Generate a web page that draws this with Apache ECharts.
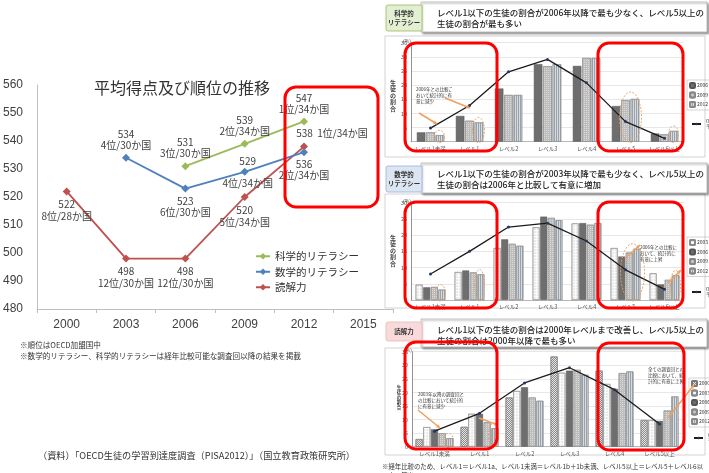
<!DOCTYPE html>
<html><head><meta charset="utf-8">
<script src="https://cdn.jsdelivr.net/npm/echarts@6/dist/echarts.min.js"></script>
<style>html,body{margin:0;padding:0;background:#fff}#main{width:709px;height:473px}</style>
</head><body><div id="main"></div>
<script>
// ---- 平均得点及び順位の推移 ----
const years = ['2000', '2003', '2006', '2009', '2012', '2015'];
const reading = [522, 498, 498, 520, 538, null];
const math = [null, 534, 523, 529, 536, null];
const science = [null, null, 531, 539, 547, null];
const readingRank = ['8位/28か国', '12位/30か国', '12位/30か国', '5位/34か国', '1位/34か国', null];
const mathRank = [null, '4位/30か国', '6位/30か国', '4位/34か国', '2位/34か国', null];
const scienceRank = [null, null, '3位/30か国', '2位/34か国', '1位/34か国', null];
const scoreTicks = [480, 560, 10];

// ---- 習熟度レベル別 生徒の割合 (%) ----
const levels7 = ['レベル1未満', 'レベル1', 'レベル2', 'レベル3', 'レベル4', 'レベル5', 'レベル6以上'];
const sci2006 = [3.3, 9.1, 18.8, 27.4, 26.8, 12.6, 2.9];
const sci2009 = [3.3, 7.4, 16.5, 26.7, 29.6, 14.7, 2.6];
const sci2012 = [2.3, 6.8, 16.5, 27.4, 29.6, 15.1, 3.8];
const sciOecd = [4.8, 12.8, 24.7, 29.1, 20.8, 7.1, 1.2];

const math2003 = [4.7, 8.6, 16.0, 22.4, 23.6, 16.0, 8.2];
const math2006 = [3.9, 9.1, 18.7, 25.7, 23.7, 13.4, 4.8];
const math2009 = [4.0, 8.5, 17.3, 25.3, 23.2, 14.6, 6.2];
const math2012 = [3.2, 7.9, 16.7, 24.6, 23.7, 15.8, 7.6];
const mathOecd = [8.0, 15.0, 22.5, 23.7, 18.2, 9.3, 3.3];

const levels6 = ['レベル1未満', 'レベル1', 'レベル2', 'レベル3', 'レベル4', 'レベル5以上'];
const read2000 = [2.8, 7.3, 18.1, 33.2, 28.0, 9.8];
const read2003 = [7.2, 12.1, 20.5, 27.2, 23.1, 9.8];
const read2006 = [6.4, 12.1, 21.9, 28.0, 21.3, 9.5];
const read2009 = [4.9, 9.0, 18.1, 28.3, 27.1, 13.3];
const read2012 = [3.1, 6.8, 16.9, 26.5, 27.7, 18.5];
const readOecd = [5.7, 12.3, 23.5, 29.1, 21.0, 8.4];

const FONT = '"Noto Sans CJK JP", "Noto Sans", sans-serif';
const chart = echarts.init(document.getElementById('main'), null, { renderer: 'canvas' });

// label placement of the score/rank annotations
const below = { position: 'bottom', distance: 3 };
const above = { position: 'top', distance: 3 };
function scoreData(vals, ranks, place) {
  return vals.map((v, i) => {
    if (v == null) return null;
    const p = place[i] || above;
    const text = p.text ? p.text(v, ranks[i]) : v + '\n' + ranks[i];
    return { value: v, label: Object.assign({ show: true, formatter: text }, p, { text: undefined }) };
  });
}
const readPlace = [below, below, below, below,
  { position: 'top', distance: 3, offset: [28, 0], text: (v, r) => v + '  ' + r }];
const mathPlace = [null, above, below,
  { position: 'inside', offset: [3, 0], text: (v, r) => v + '\n\n' + r }, below];
const sciPlace = [null, null, above, above, above];

// bar fill styles per survey year
const barStyle = {
  2000: { color: '#e6e6e6', borderColor: '#777', borderWidth: 0.5,
          decal: { symbol: 'rect', symbolSize: 1, dashArrayX: [[1, 1], [0, 1, 1, 0]], dashArrayY: [1, 0], color: '#8a8a8a' } },
  2003: { color: '#fbfbfb', borderColor: '#888', borderWidth: 0.5,
          decal: { symbol: 'circle', symbolSize: 0.6, dashArrayX: [2, 1], dashArrayY: [2, 1], color: '#b5b5b5' } },
  2006: { color: '#6e6e6e', borderColor: '#555', borderWidth: 0.5 },
  2009: { color: '#bdbdbd', borderColor: '#888', borderWidth: 0.5,
          decal: { symbol: 'rect', symbolSize: 1, dashArrayX: [1, 1], dashArrayY: [1, 1], color: 'rgba(255,255,255,0.45)' } },
  2012: { color: '#d5dbe1', borderColor: '#888', borderWidth: 0.5,
          decal: { symbol: 'rect', symbolSize: 1, dashArrayX: [1, 1], dashArrayY: [4, 0], color: '#9aa3ab' } }
};

function barSeries(prefix, year, data, idx, gap) {
  return {
    type: 'bar', name: prefix + year, xAxisIndex: idx, yAxisIndex: idx, data: data,
    barGap: '10%', barCategoryGap: gap, itemStyle: barStyle[year], emphasis: { disabled: true }, z: 2
  };
}
function oecdSeries(prefix, data, idx) {
  return {
    type: 'line', name: prefix + 'OECD平均', xAxisIndex: idx, yAxisIndex: idx, data: data,
    symbol: 'circle', symbolSize: 3, lineStyle: { color: '#1b1b1b', width: 1.3 },
    itemStyle: { color: '#1f3864' }, z: 5
  };
}

const smallAxisX = (data) => ({
  type: 'category', data: data,
  axisLine: { lineStyle: { color: '#999', width: 0.6 } }, axisTick: { show: false },
  axisLabel: { fontSize: 5.5, color: '#555', margin: 4, fontFamily: FONT, interval: 0 }
});
const smallAxisY = (max) => ({
  type: 'value', min: 0, max: max, interval: 5,
  axisLine: { show: true, lineStyle: { color: '#777', width: 0.8 } },
  axisLabel: { fontSize: 5.5, color: '#555', margin: 4, fontFamily: FONT },
  splitLine: { lineStyle: { color: '#d6d6d6', width: 0.6 } }
});

const smallLegend = (names, left, top) => ({
  data: names, orient: 'vertical', left: left, top: top, itemGap: 2.5,
  itemWidth: 5, itemHeight: 5, padding: [2, 2], borderColor: '#aaa', borderWidth: 0.5,
  textStyle: { fontSize: 5, color: '#333', fontFamily: FONT, padding: [0, 0, 0, -3] },
  formatter: n => n.slice(-4), selectedMode: false
});
const oecdLegend = (name, left, top) => ({
  data: [name], orient: 'vertical', left: left, top: top, itemWidth: 9, itemHeight: 3,
  textStyle: { fontSize: 4.5, color: '#333', fontFamily: FONT, lineHeight: 5 },
  formatter: () => 'OECD\n平均', selectedMode: false
});

const gray = '#bfbfbf';
const option = {
  backgroundColor: '#fff',
  animation: false,
  textStyle: { fontFamily: FONT },
  title: {
    text: '平均得点及び順位の推移', left: 89, top: 75,
    textStyle: { fontSize: 16, fontWeight: 'normal', color: '#333', fontFamily: FONT }
  },
  legend: [
    {
      data: ['科学的リテラシー', '数学的リテラシー', '読解力'], orient: 'vertical', left: 250, top: 246,
      itemGap: 5, itemWidth: 14, itemHeight: 8, selectedMode: false,
      textStyle: { fontSize: 10.5, color: '#333', fontFamily: FONT }
    },
    smallLegend(['科学2006', '科学2009', '科学2012'], 687, 80),
    oecdLegend('科学OECD平均', 686, 114),
    smallLegend(['数学2003', '数学2006', '数学2009', '数学2012'], 687, 237),
    oecdLegend('数学OECD平均', 686, 282),
    smallLegend(['読解2000', '読解2003', '読解2006', '読解2009', '読解2012'], 689, 378),
    oecdLegend('読解OECD平均', 688, 428)
  ],
  grid: [
    { left: 33, top: 85, width: 360, height: 224 },
    { left: 411, top: 42.7, width: 273, height: 99 },
    { left: 411, top: 202.7, width: 273, height: 97.3 },
    { left: 412, top: 351.7, width: 270, height: 95 }
  ],
  xAxis: [
    {
      type: 'category', data: years, gridIndex: 0, boundaryGap: true,
      axisLine: { lineStyle: { color: gray } },
      axisTick: { show: true, length: 4, lineStyle: { color: gray } },
      axisLabel: { fontSize: 12, color: '#404040', margin: 10, fontFamily: 'Liberation Sans, sans-serif' }
    },
    Object.assign(smallAxisX(levels7), { gridIndex: 1 }),
    Object.assign(smallAxisX(levels7), { gridIndex: 2 }),
    Object.assign(smallAxisX(levels6), { gridIndex: 3 })
  ],
  yAxis: [
    {
      type: 'value', gridIndex: 0, min: scoreTicks[0], max: scoreTicks[1], interval: scoreTicks[2],
      axisLine: { show: true, lineStyle: { color: gray } }, axisTick: { show: false },
      splitLine: { show: false },
      axisLabel: { fontSize: 12, color: '#404040', margin: 14, fontFamily: 'Liberation Sans, sans-serif' }
    },
    Object.assign(smallAxisY(35), { gridIndex: 1 }),
    Object.assign(smallAxisY(30), { gridIndex: 2 }),
    Object.assign(smallAxisY(35), { gridIndex: 3 })
  ],
  series: [
    {
      type: 'line', name: '読解力', data: scoreData(reading, readingRank, readPlace),
      color: '#c0504d', symbol: 'diamond', symbolSize: 8, lineStyle: { width: 1.8 },
      label: { fontSize: 10, color: '#404040', lineHeight: 12, fontFamily: FONT }, z: 3
    },
    {
      type: 'line', name: '数学的リテラシー', data: scoreData(math, mathRank, mathPlace),
      color: '#4f81bd', symbol: 'diamond', symbolSize: 8, lineStyle: { width: 1.8 },
      label: { fontSize: 10, color: '#404040', lineHeight: 11, fontFamily: FONT }, z: 3
    },
    {
      type: 'line', name: '科学的リテラシー', data: scoreData(science, scienceRank, sciPlace),
      color: '#9bbb59', symbol: 'diamond', symbolSize: 8, lineStyle: { width: 1.8 },
      label: { fontSize: 10, color: '#404040', lineHeight: 11, fontFamily: FONT }, z: 3
    },
    barSeries('科学', 2006, sci2006, 1, '30%'),
    barSeries('科学', 2009, sci2009, 1, '30%'),
    barSeries('科学', 2012, sci2012, 1, '30%'),
    oecdSeries('科学', sciOecd, 1),
    barSeries('数学', 2003, math2003, 2, '24%'),
    barSeries('数学', 2006, math2006, 2, '24%'),
    barSeries('数学', 2009, math2009, 2, '24%'),
    barSeries('数学', 2012, math2012, 2, '24%'),
    oecdSeries('数学', mathOecd, 2),
    barSeries('読解', 2000, read2000, 3, '16%'),
    barSeries('読解', 2003, read2003, 3, '16%'),
    barSeries('読解', 2006, read2006, 3, '16%'),
    barSeries('読解', 2009, read2009, 3, '16%'),
    barSeries('読解', 2012, read2012, 3, '16%'),
    oecdSeries('読解', readOecd, 3)
  ]
};
chart.setOption(option);

// ---- panel frames, headings and notes ----
function header(y, h, tagFill, tagStroke, tag, line1, line2, tagH) {
  return [
    { type: 'rect', shape: { x: 421, y: y, width: 286, height: h }, z: 1,
      style: { fill: '#fff', stroke: '#b0b0b0', lineWidth: 0.8, shadowBlur: 2, shadowOffsetX: 1.5, shadowOffsetY: 1.5, shadowColor: 'rgba(0,0,0,0.35)' } },
    { type: 'rect', shape: { x: 386, y: y + 3, width: 36, height: tagH, r: 2 }, z: 2,
      style: { fill: tagFill, stroke: tagStroke, lineWidth: 0.8 } },
    { type: 'text', x: 404, y: y + 3 + tagH / 2, z: 3,
      style: { text: tag, fontSize: 6.5, fontWeight: 'bold', fill: '#333', align: 'center', verticalAlign: 'middle', lineHeight: 9, fontFamily: FONT } },
    { type: 'text', x: 437, y: y + 5, z: 3,
      style: { text: line1 + '\n' + line2, fontSize: 8.5, fill: '#222', lineHeight: 11, fontWeight: 500, fontFamily: FONT } }
  ];
}
function frame(y, h) {
  return { type: 'rect', shape: { x: 385, y: y, width: 320, height: h }, z: 0,
    style: { fill: 'none', stroke: '#c8c8c8', lineWidth: 0.8 } };
}
function redBox(x, y, w, h) {
  return { type: 'rect', shape: { x: x, y: y, width: w, height: h, r: 11 }, z: 50,
    style: { fill: 'none', stroke: '#ff0000', lineWidth: 3 } };
}
function tiny(x, y, text, size) {
  return { type: 'text', x: x, y: y, z: 20,
    style: { text: text, fontSize: size || 4.5, fill: '#333', lineHeight: (size || 4.5) + 1.5, fontFamily: FONT } };
}
function vname(x, y, size) {
  return { type: 'text', x: x, y: y, z: 20,
    style: { text: '生\n徒\nの\n割\n合', fontSize: size, fontWeight: 'bold', fill: '#444', lineHeight: size + 0.5, align: 'center', fontFamily: FONT } };
}

const graphics = [].concat(
  header(2, 30, '#e3efd2', '#9bbb59', '科学的\nリテラシー',
    'レベル1以下の生徒の割合が2006年以降で最も少なく、レベル5以上の', '生徒の割合が最も多い', 26),
  header(163, 30, '#dce6f2', '#95b3d7', '数学的\nリテラシー',
    'レベル1以下の生徒の割合が2003年以降で最も少なく、レベル5以上の', '生徒の割合は2006年と比較して有意に増加', 26),
  header(319, 28, '#f9dada', '#e6b9b8', '読解力',
    'レベル1以下の生徒の割合は2000年レベルまで改善し、レベル5以上の', '生徒の割合は2000年以降で最も多い', 19),
  [
    frame(36, 121), frame(194, 114), frame(348, 107),
    tiny(403, 38, '(%)', 5), tiny(403, 198, '(%)', 5), tiny(404, 347, '(%)', 5),
    vname(393, 79, 6), vname(393, 234, 6), vname(399, 385, 4.5),
    tiny(416, 86, '2006年との比較こ\nおいて統計的に有\n意に減少'),
    tiny(640, 244, '2006年との比較に\nおいて、統計的に\n有意に上昇'),
    tiny(418, 391, '2003年以降の調査回と\nの比較において統計的\nに有意に減少'),
    tiny(648, 366, '全ての調査回との\n比較において、統\n計的に有意に上昇'),
    { type: 'text', x: 20, y: 340, z: 10,
      style: { text: '※順位はOECD加盟国中\n※数学的リテラシー、科学的リテラシーは経年比較可能な調査回以降の結果を掲載',
               fontSize: 7.6, fill: '#333', lineHeight: 11, fontFamily: FONT } },
    { type: 'text', x: 38, y: 451, z: 10,
      style: { text: '（資料）「OECD生徒の学習到達度調査（PISA2012）」（国立教育政策研究所）',
               fontSize: 9.2, fill: '#333', fontFamily: FONT } },
    { type: 'text', x: 382, y: 462, z: 10,
      style: { text: '※経年比較のため、レベル1＝レベル1a、レベル1未満＝レベル1b＋1b未満、レベル5以上＝レベル5＋レベル6以\n　上で算出',
               fontSize: 6.4, fill: '#333', lineHeight: 9, fontFamily: FONT } },
    redBox(285, 87, 93, 120),
    redBox(405, 43, 92, 108), redBox(598, 43, 85, 108),
    redBox(405, 202, 92, 106), redBox(598, 202, 85, 106),
    redBox(405, 342, 92, 107), redBox(598, 343, 86, 107)
  ]
);

// dashed orange rings around the bars that changed significantly
function ring(gridIdx, cat, value, dx, rx, extra) {
  const p = chart.convertToPixel({ xAxisIndex: gridIdx, yAxisIndex: gridIdx }, [cat, value]);
  const base = chart.convertToPixel({ xAxisIndex: gridIdx, yAxisIndex: gridIdx }, [cat, 0]);
  const top = p[1] - (extra || 4);
  return { type: 'ellipse', z: 30,
    shape: { cx: p[0] + dx, cy: (top + base[1]) / 2, rx: rx, ry: (base[1] - top) / 2 + 1 },
    style: { fill: 'none', stroke: '#e8a060', lineWidth: 0.9, lineDash: [2, 1.5] } };
}
function arrow(x1, y1, x2, y2) {
  const a = Math.atan2(y2 - y1, x2 - x1), L = 4;
  return [
    { type: 'line', z: 30, shape: { x1: x1, y1: y1, x2: x2, y2: y2 }, style: { stroke: '#f0a060', lineWidth: 1.6 } },
    { type: 'polygon', z: 30, shape: { points: [[x2, y2],
        [x2 - L * Math.cos(a - 0.5), y2 - L * Math.sin(a - 0.5)],
        [x2 - L * Math.cos(a + 0.5), y2 - L * Math.sin(a + 0.5)]] }, style: { fill: '#f0a060' } }
  ];
}
graphics.push(
  ring(1, 0, sci2012[0], 9, 5), ring(1, 1, sci2012[1], 9, 6),
  ring(1, 5, sci2012[5], 5, 11, 6), ring(1, 6, sci2012[6], 9, 5),
  ring(2, 0, math2012[0], 10, 5), ring(2, 1, math2012[1], 10, 5),
  ring(2, 5, math2012[5], 7, 12, 4), ring(2, 6, math2012[6], 11, 5),
  ring(3, 0, read2012[0], 14, 5), ring(3, 1, read2012[1], 14, 5)
);
graphics.push.apply(graphics, arrow(419, 113, 437, 124));
graphics.push.apply(graphics, arrow(445, 98, 470, 108));
graphics.push.apply(graphics, arrow(418, 410, 440, 428));
graphics.push.apply(graphics, arrow(479, 418, 498, 425));
graphics.push.apply(graphics, arrow(625, 258, 640, 245));
graphics.push.apply(graphics, arrow(668, 283, 681, 270));
graphics.push.apply(graphics, arrow(668, 418, 694, 385));

chart.setOption({ graphic: graphics });
</script>
</body></html>
